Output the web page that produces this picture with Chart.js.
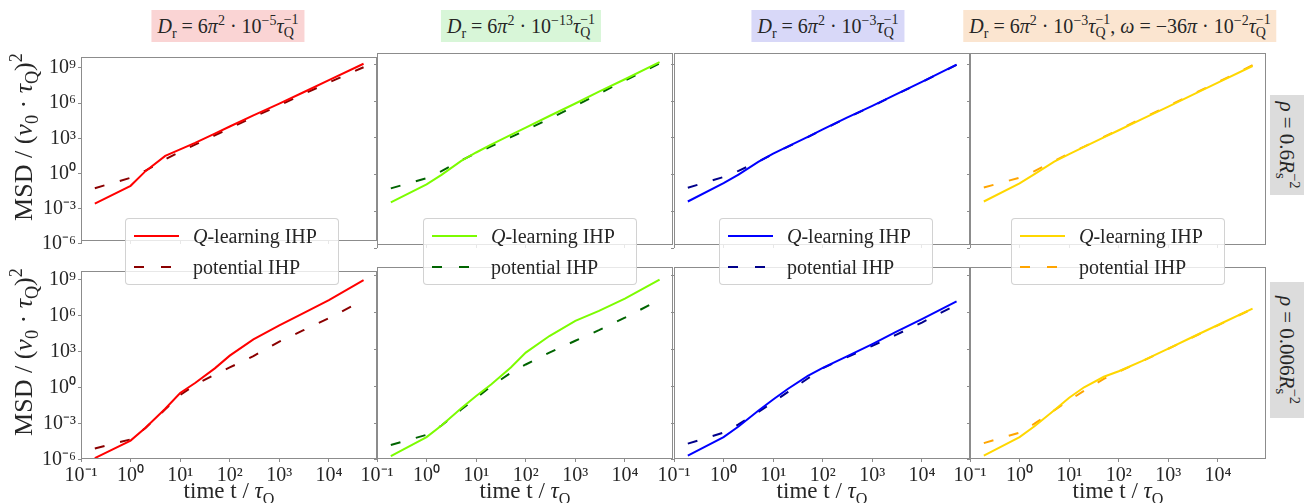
<!DOCTYPE html>
<html><head><meta charset="utf-8">
<script src="https://cdn.jsdelivr.net/npm/chart.js@4.4.1/dist/chart.umd.min.js"></script>
<style>
body{margin:0;background:#fff;width:1304px;height:503px;position:relative;overflow:hidden;font-family:"Liberation Serif",serif;color:#262626}
canvas{position:absolute}
.title{position:absolute;top:10px;height:32px;line-height:32px;padding:0 6px;font-size:20px;transform:translateX(-50%);white-space:nowrap}
.ss{display:inline-block;font-size:0.7em;line-height:0.95;vertical-align:-0.3em;text-align:left}
.ss span{display:block}
sup,sub{font-size:0.7em;line-height:0}
.ylab{position:absolute;width:220px;height:30px;line-height:30px;text-align:center;font-size:26px;transform:rotate(-90deg);white-space:nowrap}
.xlab{position:absolute;top:477px;width:200px;height:28px;line-height:28px;text-align:center;font-size:23px;white-space:nowrap}
.legend{position:absolute;top:218px;width:214px;height:67px;box-sizing:border-box;background:rgba(255,255,255,0.8);border:1px solid rgba(205,205,205,0.9);border-radius:4px;font-size:20px}
.lrow{position:absolute;left:0;width:100%;height:30px;line-height:30px}
.lrow .txt{position:absolute;left:67px;white-space:nowrap}
.sw{position:absolute;left:8px;top:14px;width:45px;height:2px}
.rowlab{position:absolute;height:34px;line-height:34px;background:#dcdcdc;text-align:center;font-size:21px;transform:rotate(90deg);white-space:nowrap}
</style></head><body>
<script>
// ---- data ----
const times = [0.19, 1, 2, 5, 10, 20, 50, 100, 300, 1000, 3000, 10000, 50000];
const xTickValues = [0.1, 1, 10, 100, 1000, 10000];
const yTickValues = [1e-6, 1e-3, 1, 1e3, 1e6, 1e9];

// top row: rho = 0.6 R_s^-2
const qRedTop    = [2.7e-3, 8.9e-2, 1.58, 31.6, 112, 398, 2.5e3, 1.0e4, 8.9e4, 8.9e5, 7.9e6, 8.9e7, 2.2e9];
const potRedTop  = [5.6e-2, 0.43, 1.74, 15.8, 70.8, 282, 1.78e3, 7.1e3, 6.3e4, 6.3e5, 5.6e6, 5.6e7, 1.12e9];
const qGreenTop  = [5.4e-3, 0.158, 0.95, 12.9, 63, 275, 1.7e3, 6.8e3, 6.0e4, 6.3e5, 5.75e6, 6.0e7, 1.5e9];
const potGreenTop= [7.4e-2, 0.51, 1.9, 14.1, 56, 200, 1.12e3, 4.2e3, 3.6e4, 4.0e5, 4.0e6, 4.7e7, 1.15e9];
const qBlueTop   = [6.3e-3, 0.2, 1.0, 10.7, 50, 200, 1.2e3, 4.8e3, 4.2e4, 4.0e5, 3.5e6, 3.7e7, 9.3e8];
const potBlueTop = [8.3e-2, 0.63, 2.0, 11.2, 48, 190, 1.15e3, 4.6e3, 4.0e4, 3.8e5, 3.4e6, 3.5e7, 8.9e8];
const qGoldTop   = [6.3e-3, 0.19, 1.1, 11.2, 47, 178, 1.07e3, 4.1e3, 3.5e4, 3.5e5, 3.0e6, 3.2e7, 7.2e8];
const potGoldTop = [8.7e-2, 0.56, 1.9, 12.6, 52, 190, 1.17e3, 4.5e3, 4.0e4, 4.0e5, 3.4e6, 3.5e7, 8.3e8];

// bottom row: rho = 0.006 R_s^-2
const qRedBot    = [1.4e-6, 4.0e-5, 4.7e-4, 1.8e-2, 0.37, 2.5, 41.7, 479, 1.1e4, 1.58e5, 1.58e6, 2.0e7, 9.5e8];
const potRedBot  = [8.9e-6, 5.0e-5, 4.5e-4, 1.6e-2, 0.25, 1.78, 12.9, 50, 436, 7.1e3, 6.0e4, 6.3e5, 2.0e7];
const qGreenBot  = [2.0e-6, 7.1e-5, 6.3e-4, 1.6e-2, 0.16, 1.41, 34, 562, 1.26e4, 2.2e5, 1.4e6, 1.4e7, 5.0e8];
const potGreenBot= [1.6e-5, 1.1e-4, 6.3e-4, 1.26e-2, 0.11, 1.0, 12.6, 60, 562, 5.2e3, 3.8e4, 4.0e5, 1.12e7];
const qBlueBot   = [2.2e-6, 7.1e-5, 5.2e-4, 1.0e-2, 8.3e-2, 0.63, 7.1, 31.6, 263, 2.8e3, 2.7e4, 3.0e5, 8.5e6];
const potBlueBot = [2.1e-5, 1.66e-4, 7.9e-4, 7.9e-3, 5.1e-2, 0.35, 4.3, 30, 224, 2.0e3, 1.58e4, 1.58e5, 4.5e6];
const qGoldBot   = [2.2e-6, 7.1e-5, 5.5e-4, 1.1e-2, 0.117, 0.83, 6.0, 17, 120, 1.2e3, 1.0e4, 1.0e5, 2.2e6];
const potGoldBot = [2.3e-5, 1.66e-4, 8.9e-4, 1.1e-2, 7.2e-2, 0.43, 4.0, 15.8, 115, 1.15e3, 9.5e3, 9.5e4, 2.1e6];

const colors = [
  {q:'#ff0000', p:'#8b0000'},
  {q:'#7cfc00', p:'#006400'},
  {q:'#0000ff', p:'#00008b'},
  {q:'#ffd700', p:'#ffa500'}
];
const rows = [
  [[qRedTop, potRedTop],[qGreenTop, potGreenTop],[qBlueTop, potBlueTop],[qGoldTop, potGoldTop]],
  [[qRedBot, potRedBot],[qGreenBot, potGreenBot],[qBlueBot, potBlueBot],[qGoldBot, potGoldBot]]
];

// ---- layout ----
const colLeft = [81, 377, 674, 970];
const panelW = 296, panelH = 192;
const rowTop = [53, 267];
const xRange = [0.1, 93325];
const yRanges = [[1.78e-6, 8.3e9], [1.17e-6, 5.4e9]];
const FONT = "'Liberation Serif', serif";
const sup = {'-':'⁻','0':'⁰','1':'¹','2':'²','3':'³','4':'⁴','5':'⁵','6':'⁶','7':'⁷','8':'⁸','9':'⁹'};
function fmt(v){ const e = Math.round(Math.log10(v)); return '10' + String(e).split('').map(c=>sup[c]).join(''); }

const framePlugin = {
  id:'frame',
  afterDatasetsDraw(chart){
    const a = chart.chartArea, c = chart.ctx;
    c.save(); c.strokeStyle = '#8c8c8c'; c.lineWidth = 1;
    c.strokeRect(Math.round(a.left)+0.5, Math.round(a.top)+0.5, Math.round(a.right-a.left)-1, Math.round(a.bottom-a.top)-1);
    c.restore();
  }
};

function makePanel(r, col){
  const PL = 85, PT = 10, PR = 30, PB = (r===1) ? 45 : 10;
  const cv = document.createElement('canvas');
  cv.width = panelW + PL + PR; cv.height = panelH + PT + PB;
  cv.style.left = (colLeft[col] - PL) + 'px';
  cv.style.top = (rowTop[r] - PT) + 'px';
  document.body.appendChild(cv);
  const [qd, pd] = rows[r][col];
  new Chart(cv, {
    type:'line',
    data:{datasets:[
      {label:'Q-learning IHP', data: times.map((t,i)=>({x:t, y:qd[i]})), borderColor: colors[col].q, borderWidth:2, pointRadius:0, tension:0, fill:false},
      {label:'potential IHP', data: times.map((t,i)=>({x:t, y:pd[i]})), borderColor: colors[col].p, borderWidth:2, borderDash:[10,16], pointRadius:0, tension:0, fill:false}
    ]},
    options:{
      responsive:false, animation:false, devicePixelRatio:1,
      layout:{padding:{left:0, top:PT, right:PR, bottom:0}},
      plugins:{legend:{display:false}, tooltip:{enabled:false}},
      scales:{
        x:{type:'logarithmic', min:xRange[0], max:xRange[1],
           afterBuildTicks: s => { s.ticks = xTickValues.map(v=>({value:v})); },
           afterFit: s => { s.height = PB; },
           ticks:{display: r===1, callback: v => fmt(v), font:{family:FONT, size:20}, color:'#262626', maxRotation:0, autoSkip:false, padding:2},
           grid:{display:true, drawOnChartArea:false, drawTicks:true, tickLength:3, color:'#8c8c8c'},
           border:{display:false}},
        y:{type:'logarithmic', min:yRanges[r][0], max:yRanges[r][1],
           afterBuildTicks: s => { s.ticks = yTickValues.map(v=>({value:v})); },
           afterFit: s => { s.width = PL; },
           ticks:{display: col===0, callback: v => fmt(v), font:{family:FONT, size:20}, color:'#262626', autoSkip:false, padding:2},
           grid:{display:true, drawOnChartArea:false, drawTicks:true, tickLength:3, color:'#8c8c8c'},
           border:{display:false}}
      }
    },
    plugins:[framePlugin]
  });
}
for (let r=0;r<2;r++) for (let c=0;c<4;c++) makePanel(r,c);

// ---- text overlays ----
const tq = '<i>τ</i><span class="ss"><span>−1</span><span>Q</span></span>';
const titles = [
  {cx:228, bg:'#fad4d4', html:'<i>D</i><sub>r</sub> = 6<i>π</i><sup>2</sup> · 10<sup>−5</sup>'+tq},
  {cx:521, bg:'#d8f6d8', html:'<i>D</i><sub>r</sub> = 6<i>π</i><sup>2</sup> · 10<sup>−13</sup>'+tq},
  {cx:828, bg:'#d8d8f8', html:'<i>D</i><sub>r</sub> = 6<i>π</i><sup>2</sup> · 10<sup>−3</sup>'+tq},
  {cx:1120, bg:'#fbe5d0', html:'<i>D</i><sub>r</sub> = 6<i>π</i><sup>2</sup> · 10<sup>−3</sup>'+tq+', <i>ω</i> = −36<i>π</i> · 10<sup>−2</sup>'+tq}
];
let html = '';
titles.forEach(t => { html += `<div class="title" style="left:${t.cx}px;background:${t.bg}">${t.html}</div>`; });
const ylabHtml = 'MSD / (<i>v</i><sub>0</sub> · <i>τ</i><sub>Q</sub>)<sup>2</sup>';
[137, 352].forEach(cy => { html += `<div class="ylab" style="left:${24-110}px;top:${cy-15}px">${ylabHtml}</div>`; });
colLeft.forEach(l => { html += `<div class="xlab" style="left:${l+148-100}px">time t / <i>τ</i><sub>Q</sub></div>`; });
const legLeft = [125, 423, 719, 1011];
legLeft.forEach((l,i) => {
  html += `<div class="legend" style="left:${l}px">
    <div class="lrow" style="top:2px"><span class="sw" style="background:${colors[i].q}"></span><span class="txt"><i>Q</i>-learning IHP</span></div>
    <div class="lrow" style="top:33px"><span class="sw" style="background:repeating-linear-gradient(90deg,${colors[i].p} 0 10px,transparent 10px 27px)"></span><span class="txt">potential IHP</span></div>
  </div>`;
});
const rowLabs = [{cy:145, len:100, html:'<i>ρ</i> = 0.6<i>R</i><span class="ss"><span>−2</span><span>s</span></span>'},
                 {cy:350, len:136, html:'<i>ρ</i> = 0.006<i>R</i><span class="ss"><span>−2</span><span>s</span></span>'}];
rowLabs.forEach(r => { html += `<div class="rowlab" style="left:${1287-r.len/2}px;top:${r.cy-17}px;width:${r.len}px">${r.html}</div>`; });
document.body.insertAdjacentHTML('beforeend', html);
</script>
</body></html>
